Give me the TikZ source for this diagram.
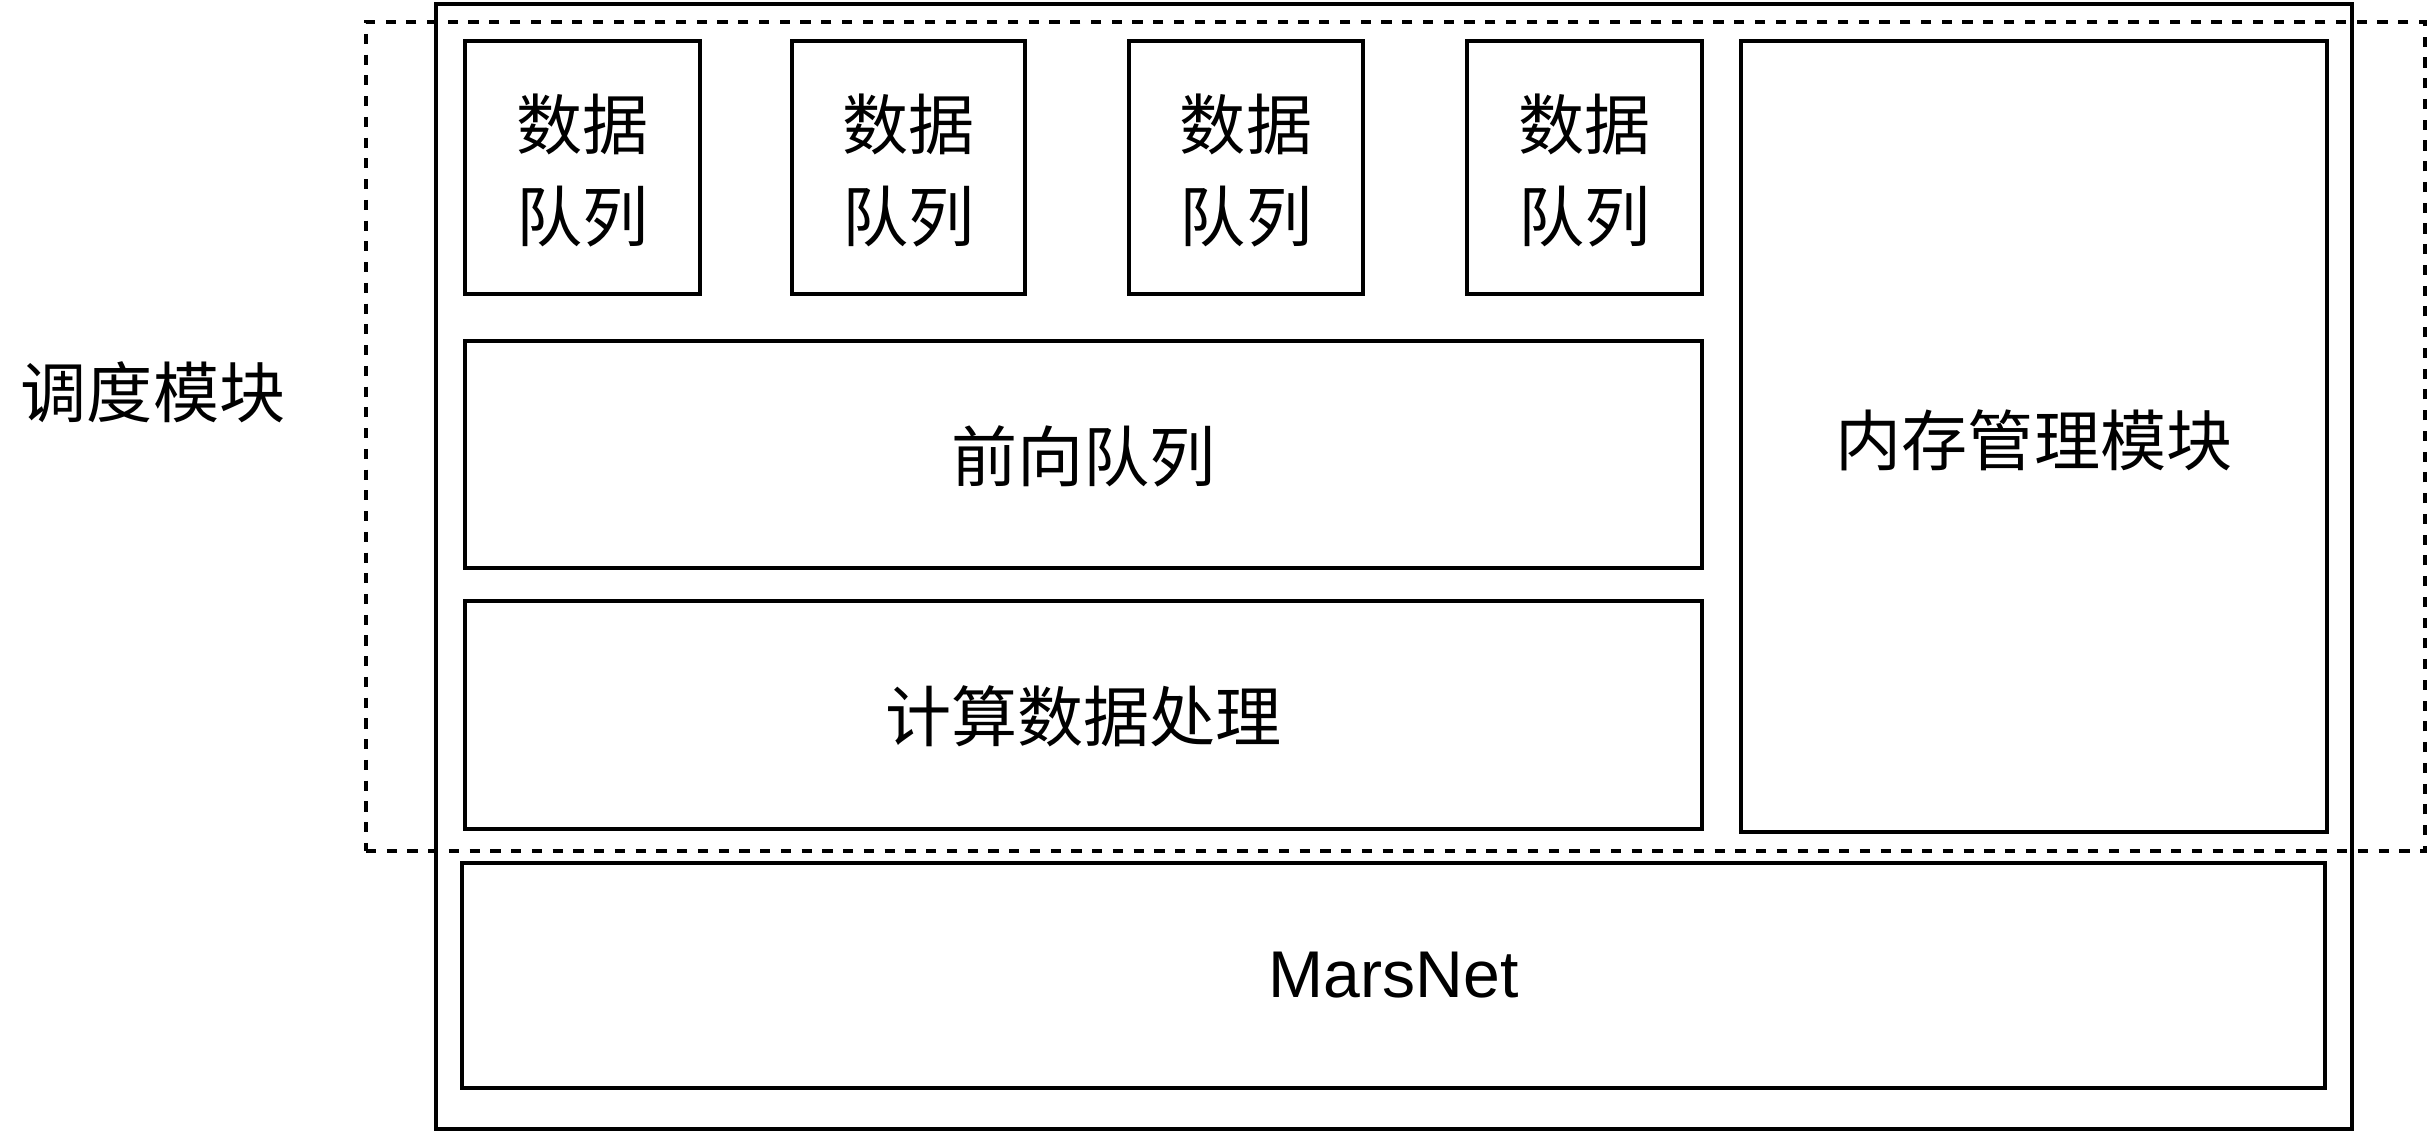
\documentclass[tikz,border=0pt]{standalone}
\usepackage{fontspec}
\newfontfamily\cjk{Noto Sans CJK SC}
\newfontfamily\latinsans{Liberation Sans}
\usetikzlibrary{fit}
\begin{document}
\begin{tikzpicture}[x=0.01cm,y=-0.01cm,
  box/.style={draw, line width=1pt, inner sep=0pt},
  txt/.style={inner sep=0pt, align=center,
    font=\cjk\fontsize{18.8}{26}\selectfont},
  dashbox/.style={draw, line width=1pt, inner sep=0pt,
    dash pattern=on 2.9pt off 3.0pt},
  lbl/.style={inner sep=0pt, font=\cjk\fontsize{18.8}{26}\selectfont}]
\useasboundingbox (0,0) rectangle (2429,1133);
\coordinate (o1) at (436,4);   \coordinate (o2) at (2352,1129);
\coordinate (d1) at (366,22);  \coordinate (d2) at (2425,851);
\node[box, fit={(o1) (o2)}] (outer) {};
\node[box, fit={(465,41) (700,294)}] (dq1) {};
\node[box, fit={(792,41) (1025,294)}] (dq2) {};
\node[box, fit={(1129,41) (1363,294)}] (dq3) {};
\node[box, fit={(1467,41) (1702,294)}] (dq4) {};
\node[box, fit={(465,341) (1702,568)}] (fwd) {};
\node[box, fit={(465,601) (1702,829)}] (calc) {};
\node[box, fit={(1741,41) (2327,832)}] (mem) {};
\node[box, fit={(462,863) (2325,1088)}] (mars) {};
\node[txt] (dq1t) at ([yshift=-0.03cm]dq1.center) {数据\\队列};
\node[txt] (dq2t) at ([yshift=-0.03cm]dq2.center) {数据\\队列};
\node[txt] (dq3t) at ([yshift=-0.03cm]dq3.center) {数据\\队列};
\node[txt] (dq4t) at ([yshift=-0.03cm]dq4.center) {数据\\队列};
\node[txt] (fwdt) at ([yshift=-0.02cm]fwd.center) {前向队列};
\node[txt] (calct) at ([yshift=-0.01cm]calc.center) {计算数据处理};
\node[txt] (memt) at ([yshift=-0.04cm]mem.center) {内存管理模块};
\node[txt, font=\latinsans\fontsize{18.8}{26}\selectfont] (marst) at (mars.center) {MarsNet};
\node[dashbox, fit={(d1) (d2)}] (sched) {};
\node[lbl] (schedlbl) at (153,392) {调度模块};
\end{tikzpicture}
\end{document}
